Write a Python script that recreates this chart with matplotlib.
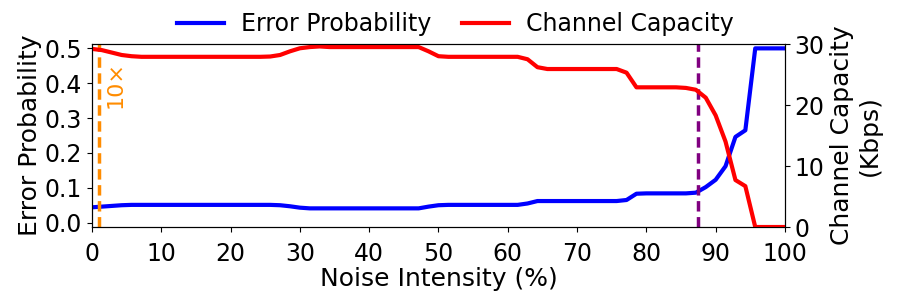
import numpy as np
import matplotlib
matplotlib.use("Agg")
import matplotlib.pyplot as plt

noise = np.linspace(0, 100, 71)

error_prob = [0.044, 0.046, 0.048, 0.050, 0.051, 0.051, 0.051, 0.051, 0.051, 0.051,
              0.051, 0.051, 0.051, 0.051, 0.051, 0.051, 0.051, 0.051, 0.051, 0.050,
              0.047, 0.043, 0.041, 0.041, 0.041, 0.041, 0.041, 0.041, 0.041, 0.041,
              0.041, 0.041, 0.041, 0.041, 0.046, 0.050, 0.051, 0.051, 0.051, 0.051,
              0.051, 0.051, 0.051, 0.051, 0.055, 0.062, 0.062, 0.062, 0.062, 0.062,
              0.062, 0.062, 0.062, 0.062, 0.065, 0.083, 0.084, 0.084, 0.084, 0.084,
              0.084, 0.086, 0.102, 0.123, 0.162, 0.246, 0.265, 0.5, 0.5, 0.5, 0.5]

capacity = [29.2, 29.0, 28.6, 28.2, 28.0, 27.9, 27.9, 27.9, 27.9, 27.9,
            27.9, 27.9, 27.9, 27.9, 27.9, 27.9, 27.9, 27.9, 27.95, 28.2,
            28.8, 29.3, 29.5, 29.6, 29.5, 29.5, 29.5, 29.5, 29.5, 29.5,
            29.5, 29.5, 29.5, 29.5, 28.8, 28.0, 27.9, 27.9, 27.9, 27.9,
            27.9, 27.9, 27.9, 27.9, 27.5, 26.2, 25.9, 25.9, 25.9, 25.9,
            25.9, 25.9, 25.9, 25.9, 25.3, 22.9, 22.9, 22.9, 22.9, 22.9,
            22.8, 22.5, 21.2, 18.3, 14.0, 7.7, 6.7, 0.0, 0.0, 0.0, 0.0]

orange_x = 1.0
purple_x = 87.5

fig = plt.figure(figsize=(8.98, 3.05), dpi=100)
ax = fig.add_axes([0.1024, 0.2557, 0.7717, 0.6])
ax2 = ax.twinx()

l1, = ax.plot(noise, error_prob, color="blue", lw=3, label="Error Probability")
l2, = ax2.plot(noise, capacity, color="red", lw=3, label="Channel Capacity")

ax.axvline(orange_x, color="darkorange", ls="--", lw=2.5, dashes=(3, 1.6))
ax.axvline(purple_x, color="purple", ls="--", lw=2.5, dashes=(3, 1.6))
ax.text(orange_x + 1.0, 0.33, "10×", rotation=90, color="darkorange",
        fontsize=16, ha="left", va="bottom")

ax.set_xlim(0, 100)
ax.set_ylim(-0.0125, 0.5125)
ax2.set_ylim(0, 30)
ax.set_xticks(np.arange(0, 101, 10))
ax.set_yticks([0.0, 0.1, 0.2, 0.3, 0.4, 0.5])
ax2.set_yticks([0, 10, 20, 30])

ax.tick_params(axis="x", labelsize=17, pad=7)
ax.tick_params(axis="y", labelsize=17)
ax2.tick_params(labelsize=17)
ax.set_xlabel("Noise Intensity (%)", fontsize=18, labelpad=1)
ax.set_ylabel("Error Probability", fontsize=18, labelpad=2)
ax2.set_ylabel("Channel Capacity\n(Kbps)", fontsize=18, labelpad=4)

fig.legend(handles=[l1, l2], loc="upper center", bbox_to_anchor=(0.507, 1.03),
           ncol=2, frameon=False, fontsize=17, columnspacing=1.3,
           handlelength=2.0, handletextpad=0.7)

fig.savefig("out.png", dpi=100)
